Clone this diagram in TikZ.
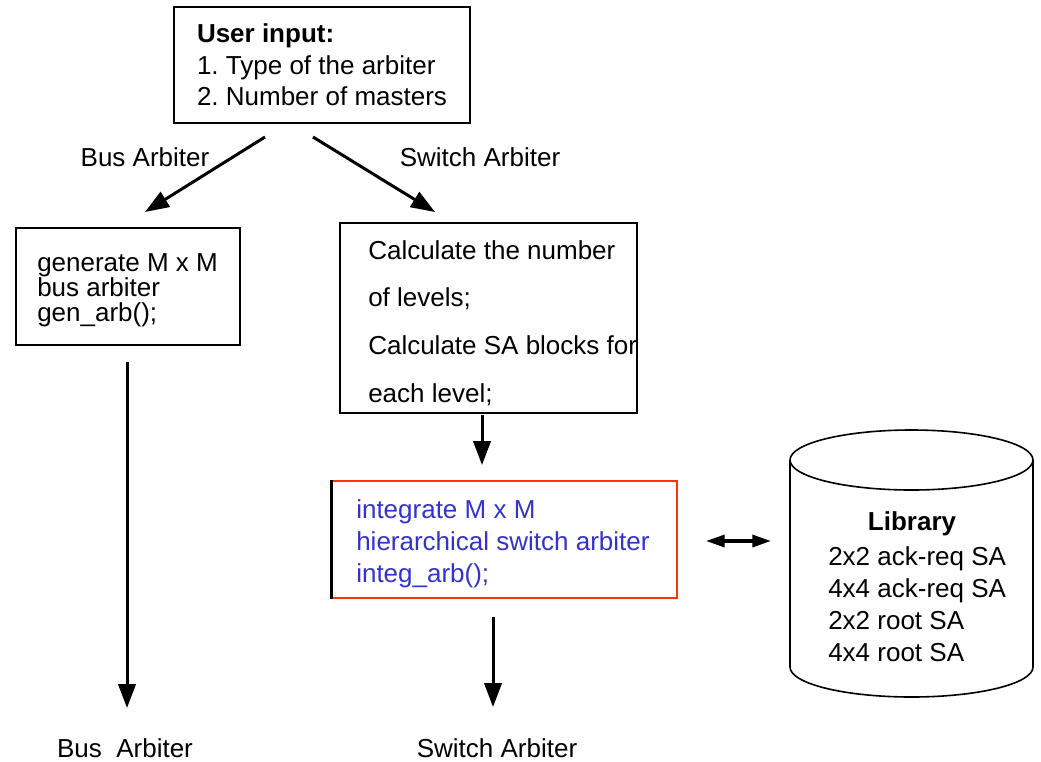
\documentclass[tikz,border=0pt]{standalone}
\usepackage{fontspec}
\setmainfont{Liberation Sans}
\usetikzlibrary{arrows.meta}
\definecolor{boxred}{RGB}{255,51,0}
\definecolor{txtblue}{RGB}{51,51,204}
\frenchspacing

\begin{document}
\begin{tikzpicture}[x=0.75pt,y=0.75pt,yscale=-1,
	every node/.style={font=\fontsize{19.5}{24}\selectfont, inner sep=0pt},
	box/.style={draw, line width=1.5pt, align=left},
	flow/.style={line width=2.25pt, -{Triangle[length=18pt,width=13pt]}},
	]
	\useasboundingbox (0,0) rectangle (1041,761);
	
	% User input
	\node [box, minimum width=222pt, minimum height=87pt, font=\fontsize{19.5}{23.6}\selectfont] (input) at (322,65) {\textbf{User input:}\\1. Type of the arbiter\\2. Number of masters};
	
	% Bus arbiter branch
	\node [draw, line width=1.5pt, minimum width=168pt, minimum height=87.75pt] (gen) at (128,286.5) {};
	\node [anchor=west, align=left, font=\fontsize{19.5}{18.75}\selectfont] (gentxt) at (37,290) {generate M x M\\bus arbiter\\gen\_arb();};
	
	% Switch arbiter branch
	\node [draw, line width=1.5pt, minimum width=222.75pt, minimum height=142.5pt] (calc) at (488.5,318) {};
	\node [anchor=west, align=left, font=\fontsize{19.5}{35.8}\selectfont] (calctxt) at (368,323) {Calculate the number\\of levels;\\Calculate SA blocks for\\each level;};
	
	\node [draw=boxred, line width=1.5pt, minimum width=258.75pt, minimum height=87.75pt] (integ) at (504.5,539.5) {};
	\node [anchor=west, align=left, text=txtblue] (integtxt) at (356,543.5) {integrate M x M\\hierarchical switch arbiter\\integ\_arb();};
	\draw [line width=2.25pt] (integ.north west) -- (integ.south west);
	
	% Library cylinder
	\draw [line width=1.2pt] (790,460) -- (790,667) arc (180:0:121.5 and 30) -- (1033,460);
	\draw [line width=1.2pt] (911.5,460) ellipse (121.5 and 30);
	\node (libtitle) at (912,524) {\textbf{Library}};
	\node [anchor=west, align=left] (liblist) at (828,604.5) {2x2 ack-req SA\\4x4 ack-req SA\\2x2 root SA\\4x4 root SA};
	
	% Outputs and labels
	\node (busarb) at (145,157) {Bus Arbiter};
	\node (swarb) at (480,157) {Switch Arbiter};
	\node (busout) at (125,748) {Bus\ \ Arbiter};
	\node (swout) at (497,748) {Switch Arbiter};
	
	% Arrow ends
	\coordinate (inL) at (265,137);
	\coordinate (inR) at (313,137);
	\coordinate (genN) at (145,212);
	\coordinate (calcN) at (435,212);
	\coordinate (genS) at (127,362);
	\coordinate (calcS) at (482,415);
	\coordinate (integN) at (482,465);
	\coordinate (integS) at (493,617);
	\coordinate (busend) at (127,708);
	\coordinate (swend) at (493,707);
	\coordinate (linkL) at (706,541);
	\coordinate (linkR) at (771,541);
	
	\draw [flow] (inL) -- (genN);
	\draw [flow] (inR) -- (calcN);
	\draw [flow] (calcS) -- (integN);
	\draw [flow] (genS) -- (busend);
	\draw [flow] (integS) -- (swend);
	\draw [line width=2.5pt, {Triangle[length=14pt,width=9pt]}-{Triangle[length=14pt,width=9pt]}] (linkL) -- (linkR);
	
\end{tikzpicture}
\end{document}
